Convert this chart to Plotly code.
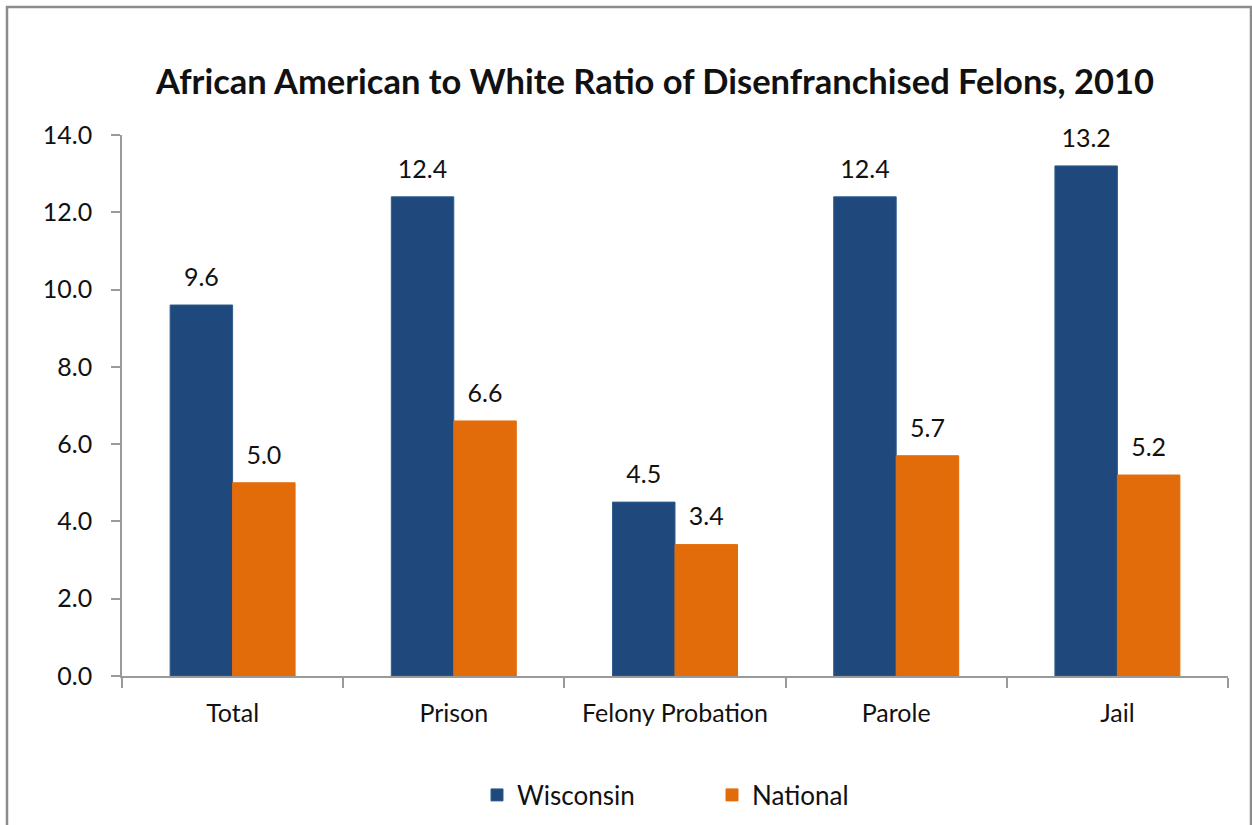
import plotly.graph_objects as go

categories = ["Total", "Prison", "Felony Probation", "Parole", "Jail"]
wisconsin = [9.6, 12.4, 4.5, 12.4, 13.2]
national = [5.0, 6.6, 3.4, 5.7, 5.2]
y_ticks = [0, 2, 4, 6, 8, 10, 12, 14]

W, H = 1252, 825
L, R, T, B = 122, 24, 135, 149
pw, ph = W - L - R, H - T - B

FONT = "Lato, Calibri, Carlito, sans-serif"
BLUE, ORANGE = "#1F497D", "#E36C0A"

fig = go.Figure()
for name, vals, color, edge, grp in [
    ("Wisconsin", wisconsin, BLUE, "#2E5C8E", "wi"),
    ("National", national, ORANGE, ORANGE, "na"),
]:
    fig.add_trace(go.Bar(
        x=categories, y=vals, name=name, offsetgroup=grp,
        marker=dict(color=color, line=dict(color=edge, width=1)),
    ))
    # value labels sitting a little above each bar
    fig.add_trace(go.Scatter(
        x=categories, y=vals, offsetgroup=grp, mode="markers+text",
        marker=dict(size=19, opacity=0),
        text=[f"{v:.1f}" for v in vals], textposition="top center",
        textfont=dict(size=25, color="#111111", family=FONT),
        showlegend=False, hoverinfo="skip", cliponaxis=False,
    ))

def px_x(p):
    return (p - L) / pw

def px_y(p):
    return (H - B - p) / ph

fig.update_layout(
    width=W, height=H,
    margin=dict(l=L, r=R, t=T, b=B, autoexpand=False),
    paper_bgcolor="white", plot_bgcolor="white",
    font=dict(family=FONT, color="#111111", size=25),
    barmode="group", bargap=0.435, bargroupgap=0,
    scattermode="group", scattergap=0.435,
    title=dict(
        text="<b>African American to White Ratio of Disenfranchised Felons, 2010</b>",
        x=px_x(655), xref="paper", xanchor="center",
        y=1 - 82 / H, yanchor="middle",
        font=dict(size=34.5, family=FONT, color="#111111"),
    ),
    xaxis=dict(
        showline=True, linecolor="#9a9a9a", linewidth=1.5,
        ticks="outside", ticklen=10, tickcolor="#9a9a9a", tickwidth=1.5,
        tickson="boundaries", showgrid=False, ticklabelstandoff=14,
        tickfont=dict(size=25, family=FONT),
    ),
    yaxis=dict(
        range=[0, 14], tickvals=y_ticks,
        ticktext=[f"{v:.1f}" for v in y_ticks],
        showline=True, linecolor="#9a9a9a", linewidth=1.5,
        ticks="outside", ticklen=9, tickcolor="#9a9a9a", tickwidth=1.5,
        showgrid=False, zeroline=False, ticklabelstandoff=14,
        tickfont=dict(size=25, family=FONT),
    ),
    legend=dict(
        orientation="h", x=px_x(712), xanchor="center",
        y=px_y(795), yanchor="middle",
        font=dict(size=26, family=FONT), itemwidth=30,
        traceorder="normal", entrywidth=190,
    ),
    shapes=[dict(
        type="rect", xref="paper", yref="paper",
        x0=px_x(7), x1=px_x(1251), y0=px_y(830), y1=px_y(7),
        line=dict(color="#8c8c8c", width=2.5), fillcolor="rgba(0,0,0,0)",
        layer="below",
    )],
)

fig.write_html("out.html")
